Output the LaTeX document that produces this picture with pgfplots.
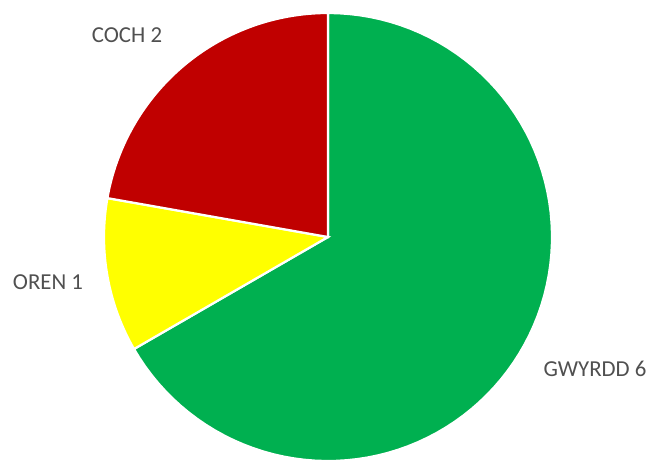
\documentclass[border=0pt]{standalone}
\usepackage{fontspec}
\setmainfont{Carlito}
\usepackage{pgfplots}
\usepackage{pgfplotstable}
\pgfplotsset{compat=1.18}

\definecolor{slice0}{HTML}{00B050}
\definecolor{slice1}{HTML}{FFFF00}
\definecolor{slice2}{HTML}{C00000}
\definecolor{labgray}{HTML}{505050}

% slices clockwise from 12 o'clock; lx/ly = label centre in pixel units
\pgfplotstableread{
name   value lx  ly
GWYRDD 6     595 96
OREN   1     48  183
COCH   2     127 430
}\piedata

\begin{document}
\begin{tikzpicture}
\begin{axis}[
    width=6.6in, height=4.65in,
    scale only axis,
    xmin=0, xmax=660, ymin=0, ymax=465,
    hide axis,
    clip=false,
]
\pgfplotsextra{
  \path (axis cs:0,0) rectangle (axis cs:660,465);
  \def\cx{328}\def\cy{228}\def\rr{224}
  \gdef\tot{0}
  \pgfplotstableforeachcolumnelement{value}\of\piedata\as\v{%
    \pgfmathsetmacro\t{\tot+\v}\xdef\tot{\t}}
  \gdef\angA{90}
  \foreach \i in {0,1,2}{
    \pgfplotstablegetelem{\i}{value}\of\piedata \let\v\pgfplotsretval
    \pgfplotstablegetelem{\i}{name}\of\piedata \let\nm\pgfplotsretval
    \pgfplotstablegetelem{\i}{lx}\of\piedata \let\lx\pgfplotsretval
    \pgfplotstablegetelem{\i}{ly}\of\piedata \let\ly\pgfplotsretval
    \pgfmathsetmacro\angB{\angA-360*\v/\tot}
    \fill[slice\i, draw=white, line width=1.6pt, line join=miter]
      (axis cs:\cx,\cy) -- plot[domain=\angA:\angB, samples=90]
      (axis cs:{\cx+\rr*cos(\x)},{\cy+\rr*sin(\x)}) -- cycle;
    \node[text=labgray, font=\fontsize{16.5}{19}\selectfont]
      at (axis cs:\lx,\ly) {\nm\ \v};
    \xdef\angA{\angB}
  }
}
\end{axis}
\end{tikzpicture}
\end{document}
